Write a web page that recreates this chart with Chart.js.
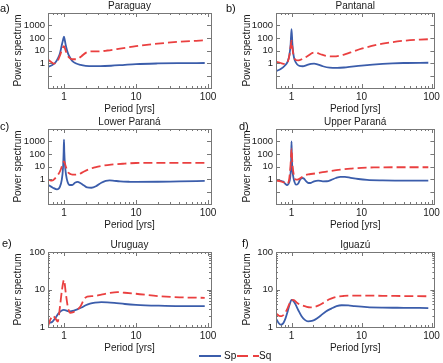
<!DOCTYPE html>
<html><head><meta charset="utf-8">
<script src="https://cdn.jsdelivr.net/npm/chart.js@4/dist/chart.umd.min.js"></script>
<style>
html,body{margin:0;padding:0;background:#fff;}
#wrap{position:relative;width:443px;height:363px;overflow:hidden;font-family:"Liberation Sans",Arial,sans-serif;color:#111;}
canvas{position:absolute;}
.lab{position:absolute;font-size:11px;line-height:11px;}
.leg{position:absolute;font-size:10px;line-height:10px;}
.seg{position:absolute;height:0;}
</style></head>
<body><div id="wrap">
<canvas id="ca" width="220" height="116" style="left:0;top:0"></canvas>
<canvas id="cb" width="221" height="116" style="left:222px;top:0"></canvas>
<canvas id="cc" width="220" height="116" style="left:0;top:116px"></canvas>
<canvas id="cd" width="221" height="116" style="left:222px;top:116px"></canvas>
<canvas id="ce" width="220" height="116" style="left:0;top:239px"></canvas>
<canvas id="cf" width="221" height="116" style="left:222px;top:239px"></canvas>
<div class="lab" style="left:0;top:3px">a)</div>
<div class="lab" style="left:226px;top:3px">b)</div>
<div class="lab" style="left:0;top:121px">c)</div>
<div class="lab" style="left:239px;top:121px">d)</div>
<div class="lab" style="left:2px;top:238px">e)</div>
<div class="lab" style="left:242px;top:238px">f)</div>
<div class="seg" style="left:199px;top:355px;width:22px;border-top:2px solid #3b5dab"></div>
<div class="leg" style="left:224px;top:351px">Sp</div>
<div class="seg" style="left:237px;top:355px;width:11px;border-top:2px solid #ea4040"></div>
<div class="seg" style="left:253px;top:355px;width:6px;border-top:2px solid #ea4040"></div>
<div class="leg" style="left:259px;top:351px">Sq</div>
</div>
<script>
// ---- data (period in years, power spectrum) ----
const xTicks = [1, 10, 100];
const yTicksWide = [1, 10, 100, 1000];
const yTicksNarrow = [1, 10, 100];

const paraguayPSp = [0.6,0.68,0.76,0.83,0.88,0.93,0.97,1.0,1.03,1.07,1.13,1.2,1.3,1.45,1.7,2.0,2.5,3.2,4.5,7,10,20,40,90];
const paraguaySp  = [0.5,0.65,1.1,2.6,6,25,70,130,60,20,6.5,3,1.5,0.95,0.7,0.6,0.56,0.56,0.6,0.72,0.82,0.92,0.97,1.0];
const paraguayPSq = [0.6,0.65,0.72,0.8,0.88,0.94,1.0,1.06,1.15,1.3,1.5,1.75,2.0,2.4,3,4,6,10,20,40,90];
const paraguaySq  = [1.9,1.3,0.9,1.2,4,12,22,9,3.2,2.0,2.0,3.5,6.5,8.5,8.5,10,14,22,35,50,65];

const pantanalPSp = [0.6,0.7,0.8,0.88,0.93,0.97,1.0,1.03,1.07,1.12,1.2,1.3,1.45,1.65,1.9,2.1,2.4,2.8,3.5,4.5,6,10,20,40,90];
const pantanalSp  = [0.22,0.33,0.6,1.3,4,30,500,30,4,1.5,0.8,0.58,0.55,0.68,0.85,0.88,0.75,0.55,0.42,0.4,0.45,0.62,0.85,1.0,1.05];
const pantanalPSq = [0.6,0.7,0.8,0.88,0.94,0.98,1.0,1.02,1.06,1.12,1.25,1.45,1.7,2.0,2.2,2.6,3.2,4,5.5,7,10,20,40,90];
const pantanalSq  = [1.3,1.0,0.85,1.2,5,30,60,25,5,2,1.6,2.2,3.6,6.5,7,5,3.6,3.4,4.5,7,14,35,60,80];

const lowerPSp = [0.6,0.7,0.8,0.88,0.93,0.97,0.99,1.0,1.01,1.03,1.07,1.12,1.2,1.3,1.42,1.55,1.7,1.9,2.1,2.4,2.8,3.3,3.8,4.3,5,6,8,10,20,40,90];
const lowerSp  = [0.34,0.2,0.15,0.25,0.8,8,150,1400,150,15,2,0.6,0.33,0.33,0.5,0.58,0.45,0.3,0.21,0.2,0.27,0.5,0.72,0.78,0.72,0.65,0.6,0.58,0.6,0.65,0.7];
const lowerPSq = [0.6,0.68,0.76,0.84,0.9,0.95,1.0,1.05,1.12,1.25,1.4,1.6,1.9,2.3,2.7,3.3,4.5,7,10,20,40,90];
const lowerSq  = [0.95,0.75,1.2,2.5,5.5,14,26,12,4,2.4,2.2,2.4,4,6.5,8.5,11,14,17,19,19.5,19.5,19.5];

const upperPSp = [0.6,0.68,0.76,0.82,0.86,0.9,0.94,0.97,0.99,1.0,1.01,1.03,1.06,1.1,1.16,1.24,1.33,1.42,1.5,1.6,1.75,1.9,2.1,2.4,2.8,3.2,3.7,4.3,5,5.8,7,9,12,20,40,90];
const upperSp  = [0.9,0.75,0.62,0.4,0.32,0.4,0.7,3,60,1000,60,5,1.5,0.6,0.35,0.42,0.9,1.2,1.1,0.7,0.48,0.5,0.65,0.75,0.65,0.66,0.85,1.2,1.5,1.5,1.25,1.0,0.85,0.78,0.75,0.74];
const upperPSq = [0.6,0.7,0.8,0.86,0.92,0.97,1.0,1.03,1.08,1.15,1.25,1.4,1.55,1.8,2.2,2.8,3.7,5,7,10,15,30,90];
const upperSq  = [0.75,0.66,0.5,0.4,0.8,15,270,15,2,0.9,0.95,1.4,2.0,2.4,2.8,3.5,4.5,5.6,6.7,7.8,8.4,8.7,8.7];

const uruguayPSp = [0.6,0.68,0.76,0.84,0.92,1.0,1.1,1.2,1.38,1.55,1.75,2.0,2.3,2.7,3.3,4,5,7,10,20,40,90];
const uruguaySp  = [1.3,1.35,1.75,2.3,2.7,2.85,2.7,2.6,2.75,3.0,3.3,3.8,4.2,4.45,4.6,4.55,4.4,4.1,3.9,3.7,3.6,3.6];
const uruguayPSq = [0.6,0.64,0.7,0.76,0.82,0.88,0.94,1.0,1.06,1.13,1.22,1.35,1.5,1.7,1.9,2.1,2.6,3.3,4.2,5.5,7,10,20,40,90];
const uruguaySq  = [1.05,1.5,2.0,1.7,1.4,3.5,10,18,8,3.5,2.4,2.5,2.8,3.6,5.5,6.5,6.7,7.3,8.0,8.5,8.2,7.7,6.7,6.2,6.0];

const iguazuPSp = [0.6,0.65,0.7,0.76,0.82,0.88,0.94,1.0,1.06,1.14,1.25,1.4,1.55,1.72,1.95,2.2,2.6,3.1,3.7,4.4,5.2,6.5,8,12,20,40,90];
const iguazuSp  = [1.7,1.3,1.15,1.25,1.7,2.6,4.0,5.3,5.0,4.0,2.8,1.9,1.55,1.42,1.45,1.6,2.0,2.6,3.1,3.6,3.8,3.75,3.6,3.4,3.3,3.25,3.2];
const iguazuPSq = [0.6,0.66,0.72,0.8,0.88,0.95,1.0,1.08,1.18,1.3,1.46,1.65,1.85,2.1,2.4,2.9,3.4,4.0,4.6,5.5,7,10,20,40,90];
const iguazuSq  = [2.3,2.0,1.95,2.3,3.2,4.5,5.3,5.2,4.5,4.0,3.7,3.45,3.35,3.4,3.7,4.5,5.4,6.1,6.5,6.7,6.85,6.85,6.8,6.7,6.6];

// ---- chart construction ----
const FONT = "'Liberation Sans', Arial, sans-serif";
const BLUE = '#3b5dab', RED = '#ea4040', TXT = '#1a1a1a', FRAME = '#777';

const framePlugin = {
  id: 'frame',
  afterDatasetsDraw(chart) {
    const {ctx, chartArea: a, scales} = chart;
    const xs = scales.x, ys = scales.y;
    ctx.save();
    ctx.strokeStyle = FRAME; ctx.lineWidth = 1;
    ctx.strokeRect(Math.round(a.left) + 0.5, Math.round(a.top) + 0.5,
                   Math.round(a.right - a.left), Math.round(a.bottom - a.top));
    ctx.beginPath();
    for (let d = 0.1; d <= 100; d *= 10) {
      for (let m = 1; m <= 9; m++) {
        const v = d * m;
        if (v < xs.min || v > xs.max) continue;
        const px = Math.round(xs.getPixelForValue(v)) + 0.5;
        const len = m === 1 ? 4 : 2;
        ctx.moveTo(px, a.bottom); ctx.lineTo(px, a.bottom - len);
        ctx.moveTo(px, a.top); ctx.lineTo(px, a.top + len);
      }
    }
    const minor = chart.options.plugins.frame.minorY;
    for (let d = 0.01; d <= 10000; d *= 10) {
      for (let m = 1; m <= (minor ? 9 : 1); m++) {
        const v = d * m;
        if (v < ys.min * 0.999 || v > ys.max * 1.001) continue;
        const py = Math.round(ys.getPixelForValue(v)) + 0.5;
        const len = m === 1 ? 4 : 2;
        ctx.moveTo(a.left, py); ctx.lineTo(a.left + len, py);
        ctx.moveTo(a.right, py); ctx.lineTo(a.right - len, py);
      }
    }
    ctx.stroke();
    ctx.restore();
  }
};

function pts(xs, ys) { return xs.map((x, i) => ({x: x, y: ys[i]})); }

function makeChart(id, title, pSp, sp, pSq, sq, yMin, yMax, yTicks, right) {
  const yWidth = right ? 54 : 48;
  const padRight = right ? 7 : 9;
  const yTitlePad = right ? 19 : 12;
  new Chart(document.getElementById(id), {
    type: 'line',
    data: {
      datasets: [
        {label: 'Sp', data: pts(pSp, sp), borderColor: BLUE, borderWidth: 1.8,
         pointRadius: 0, fill: false, cubicInterpolationMode: 'monotone', order: 1},
        {label: 'Sq', data: pts(pSq, sq), borderColor: RED, borderWidth: 1.8, borderDash: [9, 4],
         pointRadius: 0, fill: false, cubicInterpolationMode: 'monotone', order: 0}
      ]
    },
    options: {
      responsive: false, animation: false, devicePixelRatio: 1,
      layout: {padding: {left: 0, right: padRight, top: 0, bottom: 0}},
      plugins: {
        legend: {display: false}, tooltip: {enabled: false},
        title: {display: true, text: title, fullSize: false, color: TXT,
                font: {family: FONT, size: 10, weight: 'normal'}, padding: {top: 0, bottom: 1}},
        frame: {minorY: yMax <= 100}
      },
      scales: {
        x: {
          type: 'logarithmic', min: 0.6, max: 110,
          afterBuildTicks: s => { s.ticks = xTicks.map(v => ({value: v})); },
          afterFit: s => { s.height = 28; },
          grid: {display: false, drawTicks: false}, border: {display: false},
          ticks: {autoSkip: false, maxRotation: 0, padding: 3, color: TXT,
                  font: {family: FONT, size: 10}, callback: v => String(v)},
          title: {display: true, text: 'Period [yrs]', color: TXT,
                  font: {family: FONT, size: 10}, padding: {top: 0, bottom: 1}}
        },
        y: {
          type: 'logarithmic', min: yMin, max: yMax,
          afterBuildTicks: s => { s.ticks = yTicks.map(v => ({value: v})); },
          afterFit: s => { s.width = yWidth; },
          grid: {display: false, drawTicks: false}, border: {display: false},
          ticks: {autoSkip: false, padding: 3, color: TXT,
                  font: {family: FONT, size: 9.5}, callback: v => String(v)},
          title: {display: true, text: 'Power spectrum', color: TXT,
                  font: {family: FONT, size: 10}, padding: {top: yTitlePad, bottom: 0}}
        }
      }
    },
    plugins: [framePlugin]
  });
}

makeChart('ca', 'Paraguay', paraguayPSp, paraguaySp, paraguayPSq, paraguaySq, 0.01, 10000, yTicksWide, false);
makeChart('cb', 'Pantanal', pantanalPSp, pantanalSp, pantanalPSq, pantanalSq, 0.01, 10000, yTicksWide, true);
makeChart('cc', 'Lower Paraná', lowerPSp, lowerSp, lowerPSq, lowerSq, 0.01, 10000, yTicksWide, false);
makeChart('cd', 'Upper Paraná', upperPSp, upperSp, upperPSq, upperSq, 0.01, 10000, yTicksWide, true);
makeChart('ce', 'Uruguay', uruguayPSp, uruguaySp, uruguayPSq, uruguaySq, 1, 100, yTicksNarrow, false);
makeChart('cf', 'Iguazú', iguazuPSp, iguazuSp, iguazuPSq, iguazuSq, 1, 100, yTicksNarrow, true);
</script>
</body></html>
